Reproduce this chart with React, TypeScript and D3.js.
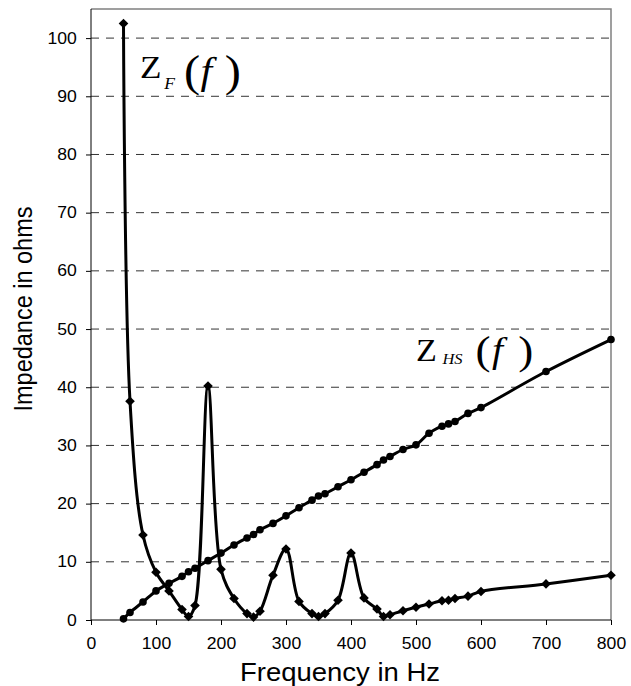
import { useEffect, useRef } from 'react';
import * as d3 from 'd3';

// frequencies (Hz) shared by both series
const freqs = [50, 60, 80, 100, 120, 140, 150, 160, 180, 200, 220, 240, 250, 260, 280, 300, 320, 340, 350, 360,
    380, 400, 420, 440, 450, 460, 480, 500, 520, 540, 550, 560, 580, 600, 700, 800];

// Z_F(f), diamond markers
const zf = [102.5, 37.6, 14.6, 8.2, 5.0, 1.8, 0.6, 2.5, 40.2, 8.7, 3.7, 1.1, 0.5, 1.5, 7.7, 12.2, 3.2, 1.1, 0.6, 1.1,
    3.4, 11.5, 3.8, 1.9, 0.6, 0.9, 1.6, 2.2, 2.75, 3.3, 3.4, 3.7, 4.1, 4.9, 6.2, 7.7];

// Z_HS(f), circle markers
const zhs = [0.2, 1.3, 3.1, 5.0, 6.3, 7.5, 8.3, 8.9, 10.2, 11.5, 12.9, 14.1, 14.7, 15.5, 16.6, 17.9, 19.3, 20.6, 21.3, 21.7,
    22.9, 24.1, 25.4, 26.7, 27.5, 28.1, 29.3, 30.1, 32.1, 33.3, 33.7, 34.1, 35.5, 36.5, 42.7, 48.2];

const xTicks = [0, 100, 200, 300, 400, 500, 600, 700, 800];
const yTicks = [0, 10, 20, 30, 40, 50, 60, 70, 80, 90, 100];

export default function App() {
    const svgRef = useRef<SVGSVGElement>(null);

    useEffect(() => {
        if (!svgRef.current) return;
        const svg = d3.select(svgRef.current);
        svg.selectAll('*').remove();

        const width = 631;
        const height = 686;
        const left = 91, right = 611, top = 9, bottom = 620;
        const stretch = 1.1; // the original picture is a little wider than tall

        svg.attr('width', width).attr('height', height);

        const x = d3.scaleLinear().domain([0, 800]).range([left, right]);
        const y = d3.scaleLinear().domain([0, 105]).range([bottom, top]);

        const sans = "'Liberation Sans', Arial, sans-serif";
        const serif = "'Liberation Serif', 'Times New Roman', serif";

        // gridlines
        svg.append('g')
            .selectAll('line')
            .data(yTicks.filter(d => d > 0))
            .join('line')
            .attr('x1', left).attr('x2', right)
            .attr('y1', d => y(d)).attr('y2', d => y(d))
            .attr('stroke', '#333')
            .attr('stroke-width', 1)
            .attr('stroke-dasharray', '8,7');

        // top / right frame
        svg.append('path')
            .attr('d', `M${left},${top}H${right}V${bottom}`)
            .attr('fill', 'none')
            .attr('stroke', '#808080')
            .attr('stroke-width', 1.5);

        // axes
        const yAxis = d3.axisLeft(y).tickValues(yTicks).tickSize(5).tickPadding(8).tickFormat(d3.format('d'));
        const gy = svg.append('g').attr('transform', `translate(${left},0)`).call(yAxis);
        gy.select('.domain').attr('d', `M0,${top}V${bottom}`).attr('stroke', '#000');

        const xAxis = d3.axisBottom(x).tickValues(xTicks).tickSize(5).tickPadding(13).tickFormat(d3.format('d'));
        const gx = svg.append('g').attr('transform', `translate(0,${bottom})`).call(xAxis);
        gx.select('.domain').attr('d', `M${left},0H${right}`).attr('stroke', '#000');

        [gx, gy].forEach(g => {
            g.selectAll('text')
                .attr('font-family', sans)
                .attr('font-size', 16)
                .attr('fill', '#000')
                .attr('transform', `scale(${stretch},1)`);
            g.selectAll('.tick line').attr('stroke', '#000');
        });

        // axis titles
        svg.append('text')
            .attr('transform', `translate(340,681) scale(${stretch},1)`)
            .attr('text-anchor', 'middle')
            .attr('font-family', sans)
            .attr('font-size', 25)
            .text('Frequency in Hz');

        svg.append('text')
            .attr('transform', `translate(32,309) scale(${stretch},1) rotate(-90)`)
            .attr('text-anchor', 'middle')
            .attr('font-family', sans)
            .attr('font-size', 23.5)
            .text('Impedance in ohms');

        const line = d3.line<number>()
            .x((d, i) => x(freqs[i]))
            .y(d => y(d))
            .curve(d3.curveCatmullRom.alpha(0.5));

        // Z_HS line + circles
        svg.append('path')
            .attr('d', line(zhs))
            .attr('fill', 'none')
            .attr('stroke', '#000')
            .attr('stroke-width', 3);

        svg.append('g')
            .selectAll('circle')
            .data(zhs)
            .join('circle')
            .attr('cx', (d, i) => x(freqs[i]))
            .attr('cy', d => y(d))
            .attr('r', 3.8)
            .attr('fill', '#000');

        // Z_F line + diamonds
        svg.append('path')
            .attr('d', line(zf))
            .attr('fill', 'none')
            .attr('stroke', '#000')
            .attr('stroke-width', 3);

        const diamond = 'M0,-4.8L4.8,0L0,4.8L-4.8,0Z';
        svg.append('g')
            .selectAll('path')
            .data(zf)
            .join('path')
            .attr('d', diamond)
            .attr('transform', (d, i) => `translate(${x(freqs[i])},${y(d)})`)
            .attr('fill', '#000');

        // curve labels, Z_F(f) and Z_HS(f)
        const zF = svg.append('g')
            .attr('transform', `translate(140,0) scale(${stretch},1)`)
            .attr('font-family', serif).attr('fill', '#000');
        zF.append('text').attr('x', 0).attr('y', 78).attr('font-size', 32).text('Z');
        zF.append('text').attr('x', 22).attr('y', 89).attr('font-size', 16).attr('font-style', 'italic').text('F');
        zF.append('text').attr('x', 40).attr('y', 86).attr('font-size', 44).text('(');
        zF.append('text').attr('x', 55).attr('y', 84).attr('font-size', 38).attr('font-style', 'italic').text('f');
        zF.append('text').attr('x', 77).attr('y', 86).attr('font-size', 44).text(')');

        const zHS = svg.append('g')
            .attr('transform', `translate(416,0) scale(${stretch},1)`)
            .attr('font-family', serif).attr('fill', '#000');
        zHS.append('text').attr('x', 0).attr('y', 361).attr('font-size', 31).text('Z');
        zHS.append('text').attr('x', 24).attr('y', 364).attr('font-size', 15).attr('font-style', 'italic').text('HS');
        zHS.append('text').attr('x', 54).attr('y', 364).attr('font-size', 41).text('(');
        zHS.append('text').attr('x', 69).attr('y', 362).attr('font-size', 36).attr('font-style', 'italic').text('f');
        zHS.append('text').attr('x', 93).attr('y', 364).attr('font-size', 41).text(')');
    }, []);

    return <svg ref={svgRef} style={{ position: 'absolute', left: 0, top: 0 }}></svg>;
}
